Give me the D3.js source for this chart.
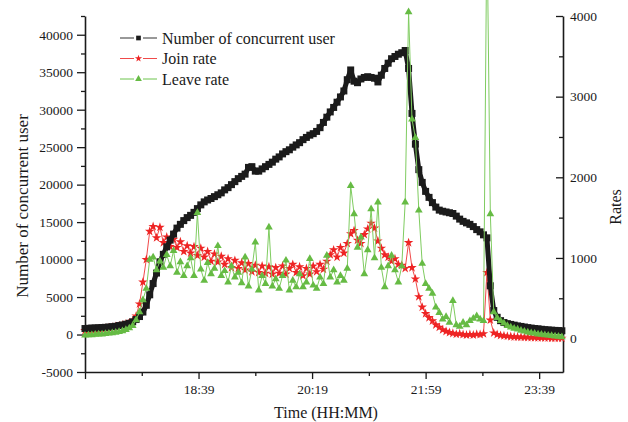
<!DOCTYPE html>
<html>
<head>
<meta charset="utf-8">
<script src="https://cdn.jsdelivr.net/npm/d3@7/dist/d3.min.js"></script>
<style>
  html, body { margin: 0; padding: 0; background: #fff; }
  svg { display: block; }
  text { font-family: "Liberation Serif", "Times New Roman", serif; fill: #1a1a1a; }
</style>
</head>
<body>
<svg id="chart" width="628" height="422"></svg>
<script>
// Sampling: one reading every 3 minutes starting at 16:59 (minutes since midnight)
const sampleStart = 1019;
const sampleStep = 3;

// Number of concurrent users (left axis)
const concurrentUsers = [
  800, 830, 860, 880, 900, 930, 960, 1000, 1050, 1100,
  1200, 1280, 1380, 1500, 1700, 2000, 2400, 3000, 3900, 5300,
  6800, 8200, 9700, 10700, 11700, 12600, 13400, 14200, 14700, 15200,
  15600, 15900, 16300, 16800, 17300, 17700, 17950, 18150, 18400, 18650,
  18900, 19300, 19600, 20000, 20400, 20800, 21100, 21400, 22300, 22400,
  21800, 21800, 22100, 22400, 22700, 23000, 23400, 23700, 24100, 24400,
  24650, 25000, 25300, 25600, 26000, 26300, 26600, 26800, 27100, 27600,
  28300, 29000, 29700, 30300, 31000, 31700, 32500, 34000, 35300, 33800,
  33600, 34100, 34300, 34400, 34300, 34200, 33700, 34600, 35500, 36200,
  36800, 37100, 37400, 37600, 37900, 35500, 29500, 25400, 22000, 20300,
  19100, 18300, 17600, 17000, 16600, 16450, 16350, 16250, 16150, 15800,
  15400, 15100, 14900, 14700, 14400, 14000, 13700, 13300, 12900, 6500,
  3200, 2300, 1850, 1600, 1450, 1350, 1250, 1150, 1080, 1000,
  920, 860, 800, 760, 700, 650, 610, 580, 550, 520,
  500
];

// Join rate (right axis)
const joinRate = [
  100, 105, 110, 112, 118, 122, 128, 135, 140, 150,
  160, 170, 180, 195, 220, 280, 430, 700, 980, 1330,
  1390, 1250, 1380, 1190, 1260, 1140, 1230, 1130, 1200, 1080,
  1150, 1060, 1140, 1030, 1120, 1010, 1080, 960, 1050, 950,
  1020, 920, 990, 880, 970, 870, 940, 850, 930, 830,
  910, 820, 900, 810, 890, 800, 880, 810, 900, 800,
  870, 920, 820, 890, 780, 870, 800, 900, 830, 920,
  860, 960, 1040, 1100, 1010, 1130, 1060, 1180, 1300, 1340,
  1220, 1180, 1290, 1360, 1430, 1370, 1210, 1120, 1040, 1010,
  960, 990, 920, 910, 870, 1190, 880, 740, 520, 390,
  310, 260, 220, 170, 140, 110, 90, 75, 65, 55,
  60, 50, 45, 50, 45, 55, 50, 60, 820, 230,
  70, 50, 40, 35, 30, 25, 22, 20, 18, 16,
  15, 13, 12, 10, 10, 8, 8, 6, 6, 5,
  5
];

// Leave rate (right axis)
const leaveRate = [
  40, 45, 45, 50, 55, 55, 60, 65, 70, 75,
  85, 95, 110, 130, 160, 230, 330, 480, 620, 980,
  1010, 850, 960, 880, 1040, 900, 1090, 820, 950, 780,
  900, 1000, 780, 1560, 860, 720, 940, 800, 870, 1150,
  780, 840, 700, 900, 760, 820, 690, 1010, 650, 860,
  1195, 600, 780, 680, 1380, 650, 740, 620, 780, 970,
  600, 720, 640, 800, 640, 700, 990, 660, 620, 760,
  680, 1030, 760, 850, 700, 780, 720, 870, 1895, 1545,
  1130, 1257, 800, 1100, 1607, 1000, 1690, 880, 640, 900,
  1030, 850, 700, 900, 1690, 4050, 2720, 2490, 1590, 930,
  680, 620, 560, 390, 320, 240, 270, 200, 470, 170,
  150, 200, 170, 220, 250, 280, 240, 220, 5200, 1545,
  330, 260, 220, 190, 160, 140, 125, 115, 100, 90,
  80, 70, 65, 55, 50, 45, 40, 35, 30, 25,
  20
];

// Axis ticks
const timeTicks = [1019, 1119, 1219, 1319, 1419];
const timeTickLabels = ["", "18:39", "20:19", "21:59", "23:39"];
const timeMinorTicks = [1069, 1169, 1269, 1369];
const userTicks = [-5000, 0, 5000, 10000, 15000, 20000, 25000, 30000, 35000, 40000];
const rateTicks = [0, 1000, 2000, 3000, 4000];

const seriesNames = ["Number of concurrent user", "Join rate", "Leave rate"];

// ---- layout ----
const svg = d3.select("#chart");
const plotLeft = 85, plotRight = 563, plotTop = 16, plotBottom = 372;
const serif = "'Liberation Serif', 'Times New Roman', serif";

const x = d3.scaleLinear().domain([1019, 1440]).range([plotLeft, plotRight]);
const yL = d3.scaleLinear().domain([-5000, 42500]).range([plotBottom, plotTop]);
const yR = d3.scaleLinear().domain([-414, 4000]).range([plotBottom, plotTop]);

const times = concurrentUsers.map((_, i) => sampleStart + i * sampleStep);

const colBlack = "#1b1b1b", colRed = "#ee2424", colGreen = "#66bb44";
const plainNumber = d => String(d);   // plain hyphen for negatives

// ---- axes ----
function styleAxis(g) {
  g.attr("font-family", serif).attr("font-size", 13);
  g.select(".domain").attr("stroke", "#1a1a1a").attr("stroke-width", 1.6);
  g.selectAll(".tick line").attr("stroke", "#1a1a1a").attr("stroke-width", 1.3);
  g.selectAll(".tick text").style("font-family", serif).style("font-size", "13.5px").attr("fill", "#111");
}

// bottom axis: major + minor
const xAxis = svg.append("g").attr("transform", `translate(0,${plotBottom})`)
  .call(d3.axisBottom(x).tickValues(timeTicks).tickSizeInner(7).tickSizeOuter(0)
    .tickPadding(5).tickFormat((d, i) => timeTickLabels[i]));
styleAxis(xAxis);
const xMinor = svg.append("g").attr("transform", `translate(0,${plotBottom})`)
  .call(d3.axisBottom(x).tickValues(timeMinorTicks).tickSizeInner(4).tickSizeOuter(0).tickFormat(""));
styleAxis(xMinor);
xMinor.select(".domain").remove();

// left axis
const userMinor = d3.range(-2500, 42501, 5000);
const yAxisL = svg.append("g").attr("transform", `translate(${plotLeft},0)`)
  .call(d3.axisLeft(yL).tickValues(userTicks).tickSizeInner(8).tickSizeOuter(0)
    .tickPadding(4).tickFormat(plainNumber));
styleAxis(yAxisL);
const yMinorL = svg.append("g").attr("transform", `translate(${plotLeft},0)`)
  .call(d3.axisLeft(yL).tickValues(userMinor).tickSizeInner(4).tickSizeOuter(0).tickFormat(""));
styleAxis(yMinorL);
yMinorL.select(".domain").remove();

// right axis (ticks point inward)
const rateMinor = [500, 1500, 2500, 3500];
const yAxisR = svg.append("g").attr("transform", `translate(${plotRight},0)`)
  .call(d3.axisRight(yR).tickValues(rateTicks).tickSizeInner(-7).tickSizeOuter(0)
    .tickPadding(7).tickFormat(plainNumber));
styleAxis(yAxisR);
const yMinorR = svg.append("g").attr("transform", `translate(${plotRight},0)`)
  .call(d3.axisRight(yR).tickValues(rateMinor).tickSizeInner(-4).tickSizeOuter(0).tickFormat(""));
styleAxis(yMinorR);
yMinorR.select(".domain").remove();

// axis titles
svg.append("text").attr("x", (plotLeft + plotRight) / 2 + 2).attr("y", 418)
  .attr("text-anchor", "middle").style("font-size", "16px").text("Time (HH:MM)");
svg.append("text").attr("transform", `translate(28,206) rotate(-90)`)
  .attr("text-anchor", "middle").style("font-size", "17px").text("Number of concurrent user");
svg.append("text").attr("transform", `translate(621,207) rotate(-90)`)
  .attr("text-anchor", "middle").style("font-size", "16px").text("Rates");

// ---- series ----
const sq = d3.symbol().type(d3.symbolSquare).size(49)();
const star = d3.symbol().type(d3.symbolStar).size(28)();
const tri = d3.symbol().type(d3.symbolTriangle).size(26)();

function drawSeries(values, yScale, lineColor, lineWidth, markColor, path) {
  const pts = values.map((v, i) => [x(times[i]), yScale(v)]);
  const g = svg.append("g");
  g.append("path").attr("d", d3.line()(pts)).attr("fill", "none")
    .attr("stroke", lineColor).attr("stroke-width", lineWidth)
    .attr("stroke-linejoin", "round");
  g.selectAll("path.m").data(pts).join("path").attr("class", "m")
    .attr("d", path).attr("transform", d => `translate(${d[0]},${d[1]})`)
    .attr("fill", markColor);
}

drawSeries(joinRate, yR, "#f04a4a", 1, colRed, star);
drawSeries(concurrentUsers, yL, colBlack, 5, colBlack, sq);
drawSeries(leaveRate, yR, "#7fcc60", 1, colGreen, tri);

// ---- legend ----
const legend = [
  { name: seriesNames[0], line: "#333", mark: colBlack, path: d3.symbol().type(d3.symbolSquare).size(22)() },
  { name: seriesNames[1], line: "#f04a4a", mark: colRed, path: d3.symbol().type(d3.symbolStar).size(16)() },
  { name: seriesNames[2], line: "#6cc44c", mark: colGreen, path: d3.symbol().type(d3.symbolTriangle).size(20)() }
];
legend.forEach((d, i) => {
  const yy = 38 + i * 20.5;
  const g = svg.append("g");
  g.append("line").attr("x1", 120).attr("x2", 134).attr("y1", yy).attr("y2", yy).attr("stroke", d.line).attr("stroke-width", 1);
  g.append("line").attr("x1", 143).attr("x2", 157).attr("y1", yy).attr("y2", yy).attr("stroke", d.line).attr("stroke-width", 1);
  g.append("path").attr("d", d.path).attr("transform", `translate(138.5,${yy})`).attr("fill", d.mark);
  g.append("text").attr("x", 162).attr("y", yy + 5.5).style("font-size", "16px").text(d.name);
});
</script>
</body>
</html>
